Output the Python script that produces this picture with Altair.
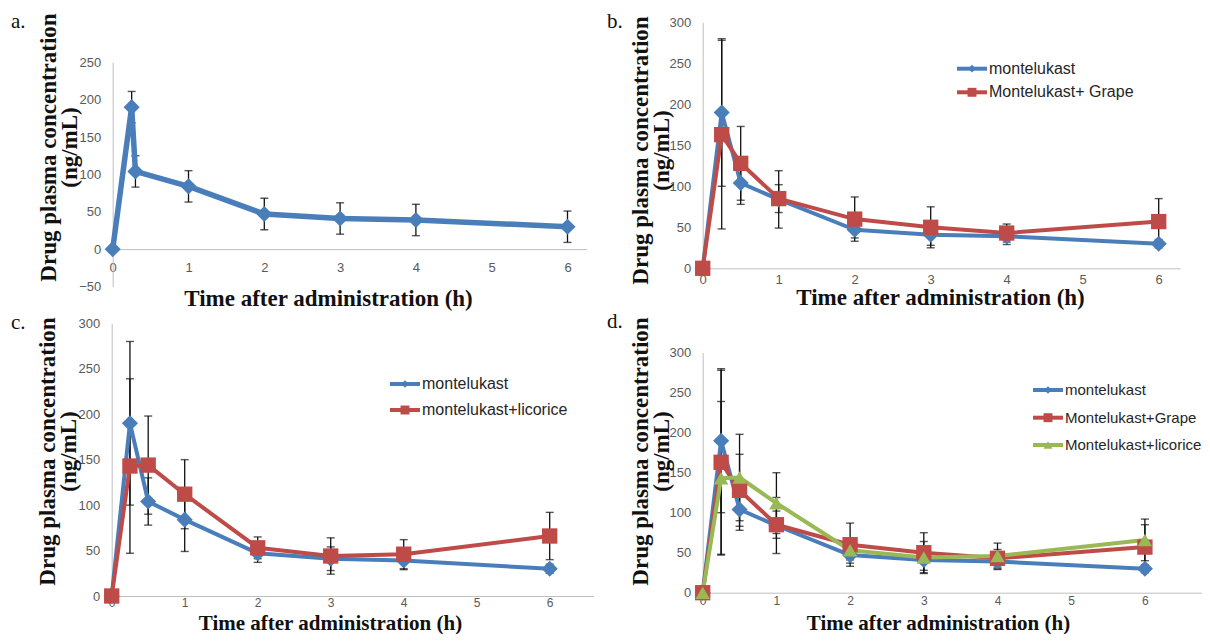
import altair as alt
import pandas as pd

# ---------------- data ----------------
TIMES = [0, 0.25, 0.5, 1, 2, 3, 4, 6]
TIMES_A = [0, 0.25, 0.3, 1, 2, 3, 4, 6]          # panel a places the 2nd point close to the peak
MONT = [0, 190, 104, 84, 47, 41, 39, 30]
MONT_ERR_A = [0, 21, 21, 21, 21, 21, 21, 21]
MONT_ERR = [0, 90, 26, 35, 10, 13, 10, 5]
GRAPE = [0, 163, 128, 85, 60, 50, 43, 57]
GRAPE_ERR = [0, 115, 45, 17, 27, 25, 11, 28]
LIC = [0, 143, 144, 112, 53, 44, 46, 66]
LIC_ERR = [0, 96, 54, 38, 12, 20, 16, 26]

STYLES = ["s1", "s2", "s3"]
COLORS = ["#4A7EBB", "#BE4B48", "#98B954"]
SHAPES = ["diamond", "square", "triangle-up"]

LEGEND_B = ["montelukast", "Montelukast+ Grape"]
LEGEND_C = ["montelukast", "montelukast+licorice"]
LEGEND_D = ["montelukast", "Montelukast+Grape", "Montelukast+licorice"]
PANEL_LABELS = ["a.", "b.", "c.", "d."]

X_TICKS = [0, 1, 2, 3, 4, 5, 6]
Y_TICKS_A = [-50, 0, 50, 100, 150, 200, 250]
Y_TICKS = [0, 50, 100, 150, 200, 250, 300]
X_TITLE = "Time after administration (h)"
Y_TITLE = ["Drug plasma concentration", "(ng/mL)"]

# ---------------- layout helpers ----------------
O = 8           # page margin
W, H = 1194, 626
TITLE_FONT = "Liberation Serif"
TICK_FONT = "Liberation Sans"

color_enc = alt.Color("sty:N", scale=alt.Scale(domain=STYLES, range=COLORS), legend=None)
shape_enc = alt.Shape("sty:N", scale=alt.Scale(domain=STYLES, range=SHAPES), legend=None)


def series(times, vals, errs, sty):
    return pd.DataFrame({"time": times, "conc": vals, "err": errs, "sty": sty})


def panel(df, x0, pxh, xmax, y_bottom, y_top, ydom, yticks, lw, msizes,
          xlabpad, xlabsize, yt_cx, yt_cy, xt_cx, xt_base, xt_size):
    xr = [x0 - O, x0 - O + pxh * xmax]
    yr = [y_bottom - O, y_top - O]
    y0_page = y_bottom - (0 - ydom[0]) / (ydom[1] - ydom[0]) * (y_bottom - y_top)

    xscale = alt.Scale(domain=[0, xmax], range=xr, nice=False, zero=False)
    yscale = alt.Scale(domain=ydom, range=yr, nice=False, zero=False)

    xaxis = alt.Axis(
        orient="bottom", offset=(y0_page - O) - H, values=X_TICKS, grid=False,
        ticks=False, domainColor="#bfbfbf", domainWidth=1, labelFlush=False,
        labelColor="#595959", labelFont=TICK_FONT, labelFontSize=xlabsize,
        labelPadding=xlabpad, title=X_TITLE, titleFont=TITLE_FONT,
        titleFontSize=xt_size, titleFontWeight="bold", titleColor="#111111",
        titleX=xt_cx - O, titleY=xt_base - y0_page, titleAlign="center",
        titleBaseline="alphabetic", titleAnchor="start")
    yaxis = alt.Axis(
        orient="left", offset=-(x0 - O), values=yticks, grid=False, ticks=False,
        domainColor="#bfbfbf", domainWidth=1, labelFlush=False,
        labelColor="#595959", labelFont=TICK_FONT, labelFontSize=13,
        labelPadding=12, title=Y_TITLE, titleFont=TITLE_FONT, titleFontSize=23,
        titleFontWeight="bold", titleColor="#111111", titleLineHeight=21,
        titleX=yt_cx - x0, titleY=yt_cy - O, titleAngle=270,
        titleAlign="center", titleBaseline="middle", titleAnchor="start")

    def X(field):
        return alt.X(field, scale=xscale, axis=xaxis)

    def Y(field):
        return alt.Y(field, scale=yscale, axis=yaxis)

    base = alt.Chart(df)
    eb = base.transform_filter("datum.err > 0").transform_calculate(
        lo="datum.conc - datum.err", hi="datum.conc + datum.err")
    bars = eb.mark_rule(color="#111111", strokeWidth=1.3).encode(
        x=X("time:Q"), y=Y("lo:Q"), y2="hi:Q")
    cap_lo = eb.mark_tick(color="#111111", orient="horizontal", size=8, thickness=1.4).encode(
        x=X("time:Q"), y=Y("lo:Q"))
    cap_hi = eb.mark_tick(color="#111111", orient="horizontal", size=8, thickness=1.4).encode(
        x=X("time:Q"), y=Y("hi:Q"))
    lines = base.mark_line(strokeWidth=lw, strokeJoin="round").encode(
        x=X("time:Q"), y=Y("conc:Q"), color=color_enc, detail="sty:N", order="time:Q")
    pts = base.mark_point(filled=True, opacity=1).encode(
        x=X("time:Q"), y=Y("conc:Q"),
        color=color_enc, shape=shape_enc,
        size=alt.Size("sty:N", scale=alt.Scale(domain=STYLES, range=msizes), legend=None))
    return alt.layer(bars, cap_lo, cap_hi, lines, pts)


def legend(labels, styles, xl0, xl1, xt, ys, fs):
    out = []
    sizes = {"s1": 60, "s2": 80, "s3": 80}
    for lab, s, y in zip(labels, styles, ys):
        d = pd.DataFrame({"label": [lab], "sty": [s]})
        b = alt.Chart(d)
        out.append(b.mark_rule(strokeWidth=4).encode(
            x=alt.value(xl0 - O), x2=alt.value(xl1 - O), y=alt.value(y - O), color=color_enc))
        out.append(b.mark_point(filled=True, opacity=1, size=sizes[s]).encode(
            x=alt.value((xl0 + xl1) / 2 - O), y=alt.value(y - O), color=color_enc, shape=shape_enc))
        out.append(b.mark_text(align="left", baseline="middle", font=TICK_FONT,
                               fontSize=fs, color="#262626").encode(
            x=alt.value(xt - O), y=alt.value(y - O), text="label:N"))
    return out


def panel_label(i, x, y):
    d = pd.DataFrame({"label": [PANEL_LABELS[i]]})
    return alt.Chart(d).mark_text(align="left", baseline="alphabetic", font=TITLE_FONT,
                                  fontSize=21, color="#111111").encode(
        x=alt.value(x - O), y=alt.value(y - O), text="label:N")


# ---------------- panels ----------------
df_a = series(TIMES_A, MONT, MONT_ERR_A, "s1")
df_b = pd.concat([series(TIMES, MONT, MONT_ERR, "s1"), series(TIMES, GRAPE, GRAPE_ERR, "s2")])
df_c = pd.concat([series(TIMES, MONT, MONT_ERR, "s1"), series(TIMES, LIC, LIC_ERR, "s2")])
df_d = pd.concat([series(TIMES, MONT, MONT_ERR, "s1"), series(TIMES, GRAPE, GRAPE_ERR, "s2"),
                  series(TIMES, LIC, LIC_ERR, "s3")])

pa = panel(df_a, 112.7, 75.8, 6.25, 286.5, 62.3, [-50, 250], Y_TICKS_A, 5.5, [260, 210, 200],
           12, 13, 48.5, 147, 328, 305, 23)
pb = panel(df_b, 702.7, 76.0, 6.28, 268.3, 22.3, [0, 300], Y_TICKS, 4, [150, 210, 190],
           5, 13, 640, 150, 940, 304, 23)
pc = panel(df_c, 111.7, 73.0, 6.6, 596.0, 323.3, [0, 300], Y_TICKS, 4, [150, 210, 190],
           1, 12, 47.5, 451, 330, 629.5, 21)
pd_ = panel(df_d, 702.7, 73.7, 6.9, 592.7, 352.7, [0, 300], Y_TICKS, 4, [150, 210, 190],
            3, 12, 640, 451, 938, 629.5, 21)

layers = [pa, pb, pc, pd_]
layers += legend(LEGEND_B, ["s1", "s2"], 957, 987, 989, [68.7, 92.3], 16)
layers += legend(LEGEND_C, ["s1", "s2"], 390, 420, 422, [384, 410], 16)
layers += legend(LEGEND_D, ["s1", "s2", "s3"], 1033, 1063, 1065, [390, 417.7, 445], 15)
layers += [panel_label(0, 11, 28), panel_label(1, 607, 28), panel_label(2, 11, 329), panel_label(3, 607, 328)]

chart = alt.layer(*layers).resolve_scale(x="independent", y="independent").properties(
    width=W, height=H, padding=0, autosize=alt.AutoSizeParams(type="none"),
    background="white").configure_view(stroke=None)

chart.save("out.html", embed_options={"renderer": "svg", "actions": False})
